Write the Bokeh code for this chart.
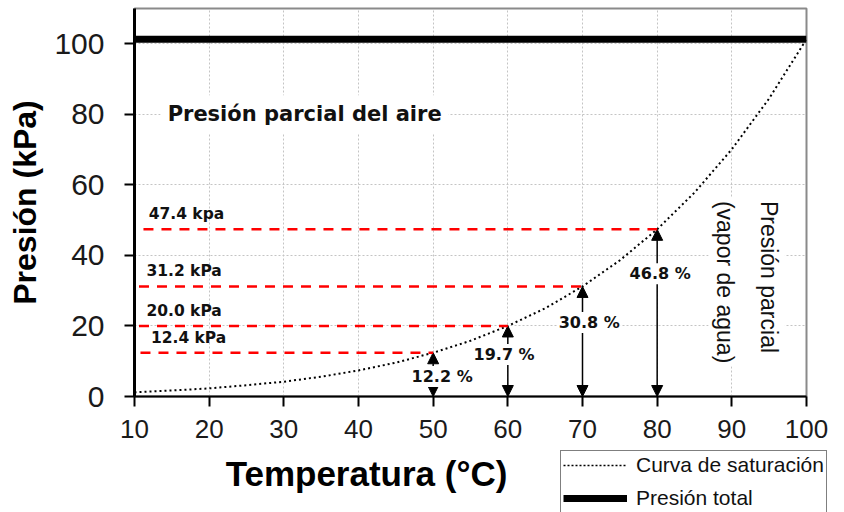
import numpy as np
from bokeh.plotting import figure
from bokeh.layouts import column, row
from bokeh.models import (ColumnDataSource, Arrow, NormalHead, Legend, LegendItem,
                          Range1d, FixedTicker)
from bokeh.core.properties import value
from bokeh.embed import file_html
from bokeh.resources import INLINE

# ---- data ----
temp = [10, 15, 20, 25, 30, 35, 40, 45, 50, 55, 60, 65, 70, 75, 80, 85, 90, 95, 100]
psat = [1.2, 1.7, 2.3, 3.2, 4.2, 5.6, 7.4, 9.6, 12.4, 15.8, 20.0, 25.0, 31.2, 38.6,
        47.4, 57.8, 70.1, 84.5, 101.3]
total_pressure = 101.3
ref_temps = [50, 60, 70, 80]
ref_pressures = [12.4, 20.0, 31.2, 47.4]
ref_labels = ["12.4 kPa", "20.0 kPa", "31.2 kPa", "47.4 kpa"]
pct_labels = ["12.2 %", "19.7 %", "30.8 %", "46.8 %"]
x_ticks = [10, 20, 30, 40, 50, 60, 70, 80, 90, 100]
y_ticks = [0, 20, 40, 60, 80, 100]

# ---- layout helpers (label positions) ----
dash_start = [10.8, 10.6, 10.6, 11.2]
kpa_label_x = [12.2, 11.6, 11.6, 11.9]
pct_label_x = [51.2, 59.5, 70.9, 80.4]
pct_label_y = [5.7, 11.9, 21.0, 34.8]

FONT_SANS = "Liberation Sans"
FONT_BOLD = "DejaVu Sans"

p = figure(width=844, height=450, output_backend="svg", toolbar_location=None,
           x_range=Range1d(10, 100), y_range=Range1d(0, 110),
           min_border_left=134, min_border_right=38, min_border_top=8,
           min_border_bottom=54)
p.background_fill_color = "white"
p.border_fill_color = "white"
p.outline_line_color = "#8a8a8a"
p.outline_line_width = 2

# grid
p.xgrid.ticker = FixedTicker(ticks=x_ticks)
p.ygrid.ticker = FixedTicker(ticks=y_ticks)
for g in (p.xgrid, p.ygrid):
    g.grid_line_color = "#c4c4c4"
    g.grid_line_dash = "2 2"
    g.grid_line_width = 1

# axes
p.xaxis.ticker = FixedTicker(ticks=x_ticks)
p.yaxis.ticker = FixedTicker(ticks=y_ticks)
for ax in (p.xaxis, p.yaxis):
    ax.axis_line_color = "black"
    ax.major_tick_line_color = "black"
    ax.major_tick_line_width = 2
    ax.major_tick_out = 10
    ax.major_tick_in = 0
    ax.minor_tick_line_color = None
    ax.major_label_text_font = FONT_SANS
    ax.major_label_text_color = "#1a1a1a"
    ax.axis_label_text_font = FONT_SANS
    ax.axis_label_text_font_style = "bold"
    ax.axis_label_text_font_size = "32px"
    ax.axis_label_text_color = "black"
p.yaxis.axis_line_width = 3
p.xaxis.axis_line_width = 2
p.yaxis.major_label_text_font_size = "30px"
p.xaxis.major_label_text_font_size = "26px"
p.yaxis.major_label_standoff = 20
p.xaxis.major_label_standoff = 13
p.yaxis.axis_label = "Presión (kPa)"
p.yaxis.axis_label_standoff = 8

# saturation curve
sat = p.line(temp, psat, line_color="black", line_width=2, line_dash="2 3")
# total pressure
tot = p.line([temp[0], temp[-1]], [total_pressure, total_pressure],
             line_color="black", line_width=7)

# red dashed reference lines
for xs, xt, yv in zip(dash_start, ref_temps, ref_pressures):
    p.line([xs, xt], [yv, yv], line_color="#ff0000", line_width=2.5, line_dash="10 8")

# double arrows (under the labels)
asrc = ColumnDataSource(dict(x0=ref_temps, y0=[0] * len(ref_temps),
                             x1=ref_temps, y1=ref_pressures))
p.add_layout(Arrow(source=asrc, x_start="x0", y_start="y0", x_end="x1", y_end="y1",
                   line_color="black", line_width=1.5, level="underlay",
                   start=NormalHead(size=11, fill_color="black", line_color="black"),
                   end=NormalHead(size=11, fill_color="black", line_color="black")))

# kPa labels
ksrc = ColumnDataSource(dict(x=kpa_label_x, y=ref_pressures, t=ref_labels))
p.text(x="x", y="y", text="t", source=ksrc, y_offset=-15,
       text_font=value(FONT_BOLD), text_font_style="bold",
       text_font_size="15.5px", text_color="#111111",
       text_align="left", text_baseline="middle")

# percentage labels
psrc = ColumnDataSource(dict(x=pct_label_x, y=pct_label_y, t=pct_labels))
p.text(x="x", y="y", text="t", source=psrc,
       text_font=value(FONT_BOLD), text_font_style="bold",
       text_font_size="16px", text_color="#111111",
       text_align="center", text_baseline="middle",
       background_fill_color="white", padding=1)

# region annotations
p.text(x=[13.5], y=[80], text=["Presión parcial del aire"],
       text_font=value(FONT_BOLD), text_font_style="bold",
       text_font_size="21px", text_color="#111111",
       text_align="left", text_baseline="middle",
       background_fill_color="white", padding=7)
p.text(x=[92.0], y=[56.3], text=["Presión parcial\n(vapor de agua)"],
       angle=-np.pi / 2, text_line_height=1.7,
       text_font=value(FONT_SANS), text_font_size="23px", text_color="#111111",
       text_align="left", text_baseline="middle",
       background_fill_color="white", padding=3)

# ---- bottom strip: x-axis title and legend ----
p_title = figure(width=560, height=62, output_backend="svg", toolbar_location=None,
                 x_range=Range1d(0, 560), y_range=Range1d(0, 62),
                 min_border=0, outline_line_color=None)
p_title.axis.visible = False
p_title.grid.visible = False
p_title.text(x=[366], y=[39], text=["Temperatura (°C)"],
             text_font=value(FONT_SANS), text_font_style="bold",
             text_font_size="35px", text_color="black",
             text_align="center", text_baseline="middle")

# legend keys: same series, drawn outside this strip's visible range
p_leg = figure(width=284, height=62, output_backend="svg", toolbar_location=None,
               x_range=Range1d(-200, -100), y_range=Range1d(-200, -100),
               min_border=0, outline_line_color=None)
p_leg.axis.visible = False
p_leg.grid.visible = False
sat_key = p_leg.line(temp, psat, line_color="black", line_width=1.6, line_dash="2 2")
tot_key = p_leg.line([temp[0], temp[-1]], [total_pressure, total_pressure],
                     line_color="black", line_width=7)
legend = Legend(items=[LegendItem(label="Curva de saturación", renderers=[sat_key]),
                       LegendItem(label="Presión total", renderers=[tot_key])],
                location="top_left", orientation="vertical",
                border_line_color="black", border_line_width=1,
                label_text_font=FONT_SANS, label_text_font_size="21px",
                label_text_color="#111111", glyph_width=64, glyph_height=20,
                label_height=20, label_standoff=9, spacing=9, padding=2, margin=0)
p_leg.add_layout(legend)

layout = column(p, row(p_title, p_leg, spacing=0), spacing=0)
open("out.html", "w").write(file_html(layout, INLINE))
